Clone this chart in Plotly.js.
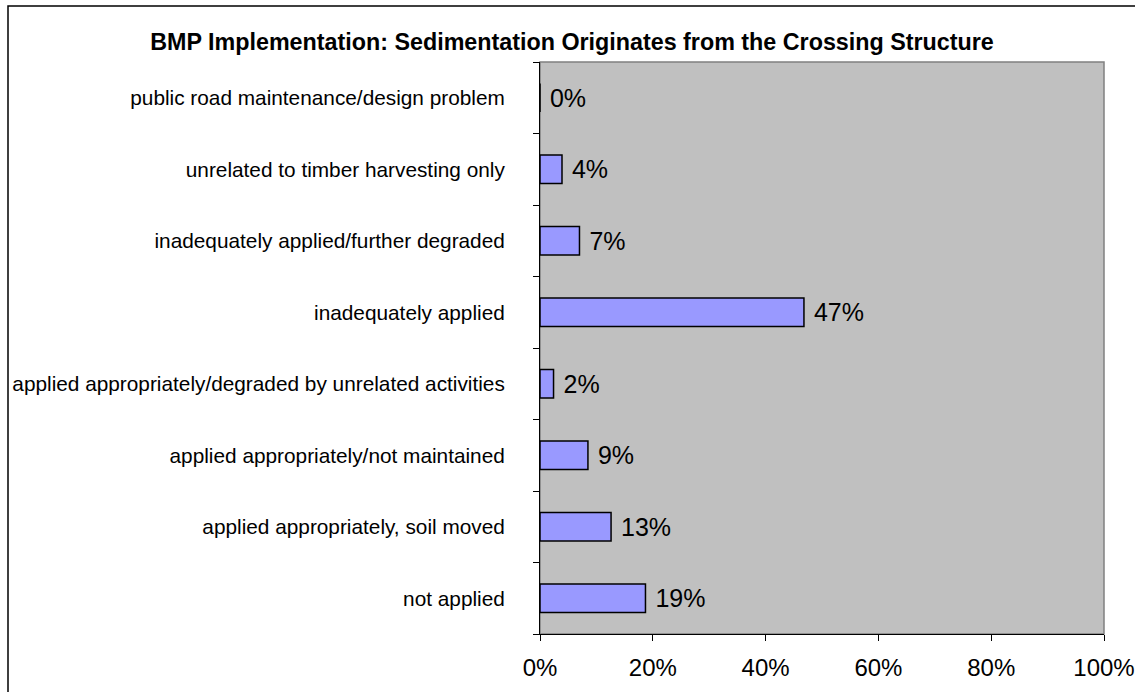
<!DOCTYPE html>
<html>
<head>
<meta charset="utf-8">
<script src="https://cdn.plot.ly/plotly-3.0.1.min.js"></script>
<style>
html,body{margin:0;padding:0;background:#fff;}
#chart{width:1135px;height:692px;}
</style>
</head>
<body>
<div id="chart"></div>
<script>
// Categories listed bottom to top
const categories = [
  "not applied",
  "applied appropriately, soil moved",
  "applied appropriately/not maintained",
  "applied appropriately/degraded by unrelated activities",
  "inadequately applied",
  "inadequately applied/further degraded",
  "unrelated to timber harvesting only",
  "public road maintenance/design problem"
];
const values = [18.7, 12.6, 8.5, 2.4, 46.8, 7.0, 3.9, 0];
const labels = ["19%", "13%", "9%", "2%", "47%", "7%", "4%", "0%"];
const xTickVals = [0, 20, 40, 60, 80, 100];
const xTickText = ["0%", "20%", "40%", "60%", "80%", "100%"];

const FONT = "Arial, 'Liberation Sans', sans-serif";

const trace = {
  type: "bar",
  orientation: "h",
  y: categories,
  x: values,
  text: labels.map(s => " " + s),
  textposition: "outside",
  textfont: {family: FONT, size: 25, color: "#000"},
  cliponaxis: false,
  marker: {color: "#9999FF", line: {color: "#000", width: 1.5}},
  hoverinfo: "none"
};

const layout = {
  width: 1135,
  height: 692,
  margin: {l: 540, r: 31, t: 62, b: 58},
  paper_bgcolor: "#fff",
  plot_bgcolor: "#C0C0C0",
  showlegend: false,
  bargap: 0.6,
  font: {family: FONT, color: "#000"},
  title: {
    text: "<b>BMP Implementation: Sedimentation Originates from the Crossing Structure</b>",
    font: {family: FONT, size: 23.3, color: "#000"},
    x: 572 / 1135, xref: "container", xanchor: "center",
    y: 1 - 42/692, yref: "container", yanchor: "middle"
  },
  xaxis: {
    range: [0, 100],
    tickvals: xTickVals,
    ticktext: xTickText,
    ticks: "outside",
    ticklen: 6,
    tickcolor: "#000",
    showgrid: false,
    zeroline: false,
    showline: true,
    linecolor: "#000",
    linewidth: 1,
    tickfont: {family: FONT, size: 24, color: "#000"},
    ticklabelstandoff: 6,
    fixedrange: true
  },
  yaxis: {
    type: "category",
    tickson: "boundaries",
    ticks: "outside",
    ticklen: 6,
    tickcolor: "#000",
    showgrid: false,
    zeroline: false,
    showline: true,
    linecolor: "#000",
    linewidth: 1,
    tickfont: {family: FONT, size: 20.8, color: "#000"},
    ticklabelstandoff: 30,
    fixedrange: true
  },
  shapes: [
    {type: "rect", xref: "paper", yref: "paper", x0: 0, x1: 1, y0: 0, y1: 1,
     line: {color: "#808080", width: 1.5}, fillcolor: "rgba(0,0,0,0)", layer: "below"},
    {type: "rect", xref: "paper", yref: "paper",
     x0: (8 - 540) / 564, x1: 1.2, y0: -0.2, y1: (634 - 6) / 572,
     line: {color: "#000", width: 1.5}, fillcolor: "rgba(0,0,0,0)", layer: "below"}
  ]
};

Plotly.newPlot("chart", [trace], layout, {displayModeBar: false, staticPlot: true});
</script>
</body>
</html>
